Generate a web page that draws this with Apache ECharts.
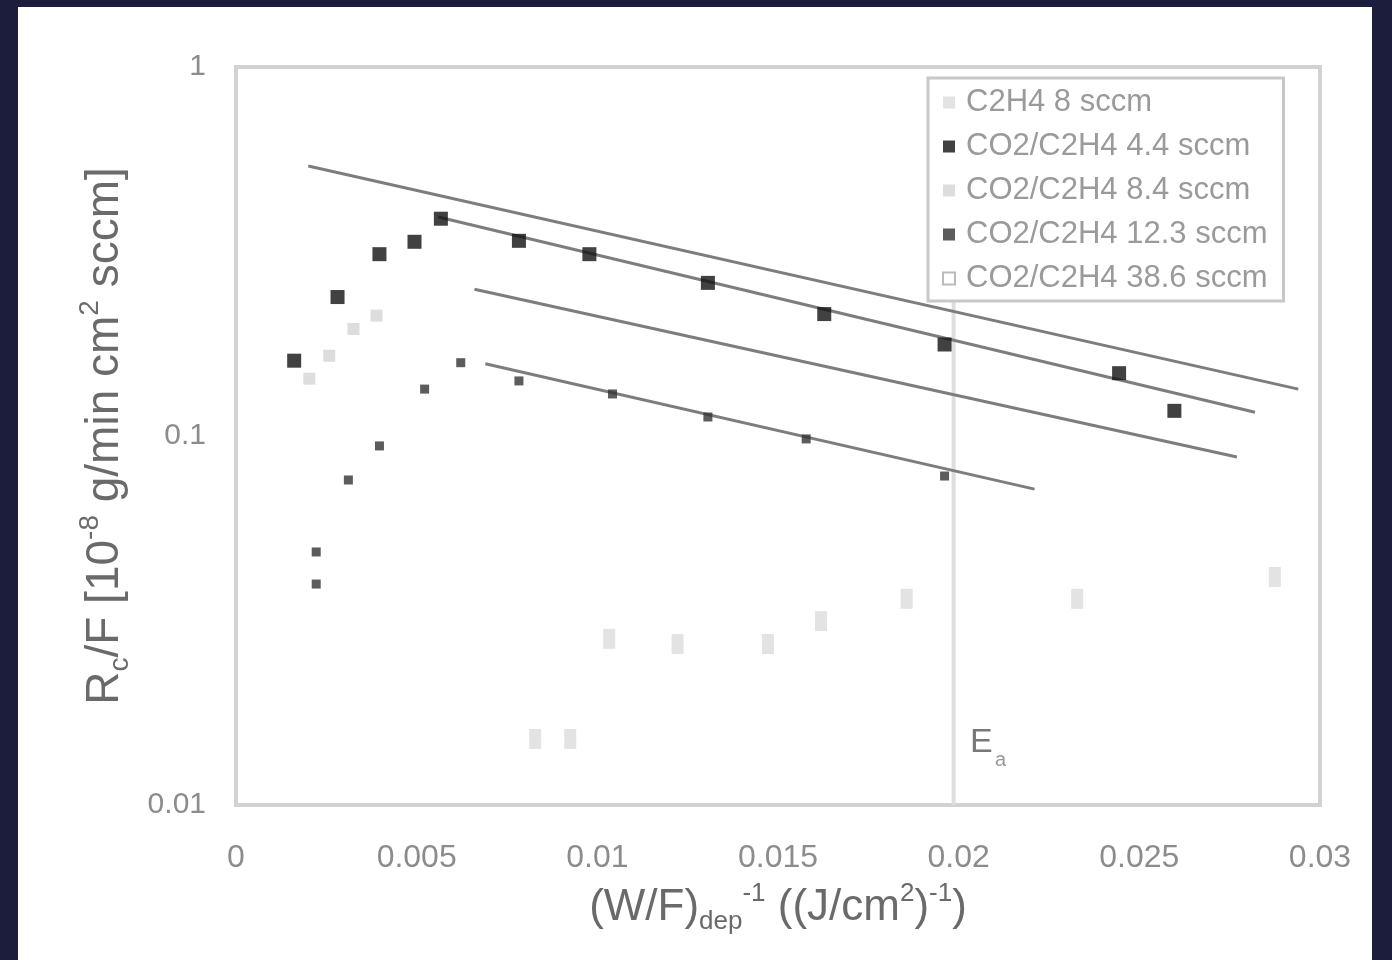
<!DOCTYPE html>
<html>
<head>
<meta charset="utf-8">
<script src="https://cdn.jsdelivr.net/npm/echarts@6/dist/echarts.min.js"></script>
<style>
  html, body { margin: 0; padding: 0; background: #1c1d3d; }
  #panel { position: absolute; left: 18px; top: 7px; width: 1354px; height: 953px; background: #fff; }
  #main { position: absolute; left: 0; top: 0; width: 1392px; height: 960px; }
</style>
</head>
<body>
<div id="panel"></div>
<div id="main"></div>
<script>
// tick labels
const xTickLabels = ['0', '0.005', '0.01', '0.015', '0.02', '0.025', '0.03'];
const yTickLabels = { '-2': '0.01', '-1': '0.1', '0': '1' };

const seriesNames = [
  'C2H4 8 sccm',
  'CO2/C2H4 4.4 sccm',
  'CO2/C2H4 8.4 sccm',
  'CO2/C2H4 12.3 sccm',
  'CO2/C2H4 38.6 sccm'
];

// [x, y] points
const pts_c2h4_8 = [
  [0.00828, 0.0151], [0.00925, 0.0151], [0.01033, 0.0282], [0.01222, 0.0273],
  [0.01472, 0.0273], [0.01619, 0.0315], [0.01856, 0.0362], [0.02328, 0.0362], [0.02875, 0.0415]
];
const pts_44 = [
  [0.00161, 0.160], [0.00281, 0.238], [0.00397, 0.311], [0.00494, 0.336],
  [0.00567, 0.388], [0.00783, 0.338], [0.00978, 0.311], [0.01306, 0.260],
  [0.01628, 0.214], [0.01961, 0.177], [0.02444, 0.148], [0.02597, 0.117]
];
const pts_84 = [
  [0.00203, 0.143], [0.00258, 0.165], [0.00325, 0.195], [0.00389, 0.212]
];
const pts_123 = [
  [0.00222, 0.0397], [0.00222, 0.0485], [0.00311, 0.0760], [0.00397, 0.0940],
  [0.00522, 0.134], [0.00622, 0.158], [0.00783, 0.141], [0.01042, 0.130],
  [0.01306, 0.1126], [0.01578, 0.0982], [0.01961, 0.0779]
];
const pts_386 = [];

// fitted lines (end points)
const fit1 = [[0.0020, 0.539], [0.0294, 0.134]];
const fit2 = [[0.0056, 0.392], [0.0282, 0.116]];
const fit3 = [[0.0066, 0.250], [0.0277, 0.0877]];
const fit4 = [[0.0069, 0.157], [0.0221, 0.0718]];
const eLine = [[0.01986, 0.01], [0.01986, 0.25]];

const fitStyle = { color: '#7d7d7d', width: 3 };

function fitSeries(data) {
  return {
    type: 'line', data: data, showSymbol: false, silent: true,
    lineStyle: fitStyle, z: 2
  };
}

const chart = echarts.init(document.getElementById('main'));
chart.setOption({
  backgroundColor: 'transparent',
  animation: false,
  textStyle: { fontFamily: 'Arial' },
  grid: {
    left: 236, top: 67, width: 1084, height: 738,
    show: true, borderColor: '#d2d2d2', borderWidth: 4
  },
  legend: {
    data: seriesNames,
    orient: 'vertical',
    left: 928, top: 78,
    padding: [9, 16, 7, 14],
    itemGap: 13,
    itemWidth: 12, itemHeight: 12,
    textStyle: { fontSize: 31, color: '#9a9a9a', padding: [0, 0, 0, 6] },
    borderColor: '#c8c8c8', borderWidth: 3,
    backgroundColor: '#fff',
    z: 10
  },
  xAxis: {
    type: 'value', min: 0, max: 0.03, interval: 0.005,
    axisLine: { show: false }, axisTick: { show: false }, splitLine: { show: false },
    axisLabel: {
      color: '#8c8c8c', fontSize: 32, margin: 37,
      formatter: v => xTickLabels[Math.round(v / 0.005)]
    },
    name: '{n|(W/F)}{sb|dep}{sp|-1}{n| ((J/cm}{sp|2}{n|)}{sp|-1}{n|)}',
    nameLocation: 'middle', nameGap: 76,
    nameTextStyle: {
      rich: {
        n: { fontSize: 44, color: '#6a6a6a', lineHeight: 54 },
        sb: { fontSize: 26, color: '#6a6a6a', verticalAlign: 'bottom' },
        sp: { fontSize: 26, color: '#6a6a6a', verticalAlign: 'top' }
      }
    }
  },
  yAxis: {
    type: 'log', logBase: 10, min: 0.01, max: 1,
    axisLine: { show: false }, axisTick: { show: false }, splitLine: { show: false },
    minorTick: { show: false },
    axisLabel: {
      color: '#8c8c8c', fontSize: 30, margin: 30,
      formatter: v => yTickLabels[String(Math.round(Math.log10(v)))]
    },
    name: '{n|R}{sb|c}{n|/F [10}{sp|-8}{n| g/min cm}{sp|2}{n| sccm]}',
    nameLocation: 'middle', nameGap: 102,
    nameTextStyle: {
      rich: {
        n: { fontSize: 46, color: '#6a6a6a', lineHeight: 58 },
        sb: { fontSize: 28, color: '#6a6a6a', verticalAlign: 'bottom' },
        sp: { fontSize: 28, color: '#6a6a6a', verticalAlign: 'top' }
      }
    }
  },
  graphic: [
    { type: 'text', left: 970, top: 726, style: { text: 'E', fontSize: 34, fill: '#777', fontFamily: 'Arial' } },
    { type: 'text', left: 995, top: 750, style: { text: 'a', fontSize: 20, fill: '#999', fontFamily: 'Arial' } }
  ],
  series: [
    {
      type: 'line', data: eLine, showSymbol: false, silent: true,
      lineStyle: { color: '#dedede', width: 4 }, z: 1
    },
    fitSeries(fit1),
    fitSeries(fit2),
    fitSeries(fit3),
    fitSeries(fit4),
    {
      name: seriesNames[0], type: 'scatter', data: pts_c2h4_8,
      symbol: 'rect', symbolSize: [12, 20],
      itemStyle: { color: '#dcdcdc' }, z: 3
    },
    {
      name: seriesNames[1], type: 'scatter', data: pts_44,
      symbol: 'rect', symbolSize: 14,
      itemStyle: { color: '#111' }, z: 5
    },
    {
      name: seriesNames[2], type: 'scatter', data: pts_84,
      symbol: 'rect', symbolSize: 12,
      itemStyle: { color: '#d4d4d4' }, z: 3
    },
    {
      name: seriesNames[3], type: 'scatter', data: pts_123,
      symbol: 'rect', symbolSize: 9,
      itemStyle: { color: '#333' }, z: 5
    },
    {
      name: seriesNames[4], type: 'scatter', data: pts_386,
      symbol: 'emptyRect', symbolSize: 12,
      itemStyle: { color: '#aaa' }, z: 3
    }
  ]
});
</script>
</body>
</html>
